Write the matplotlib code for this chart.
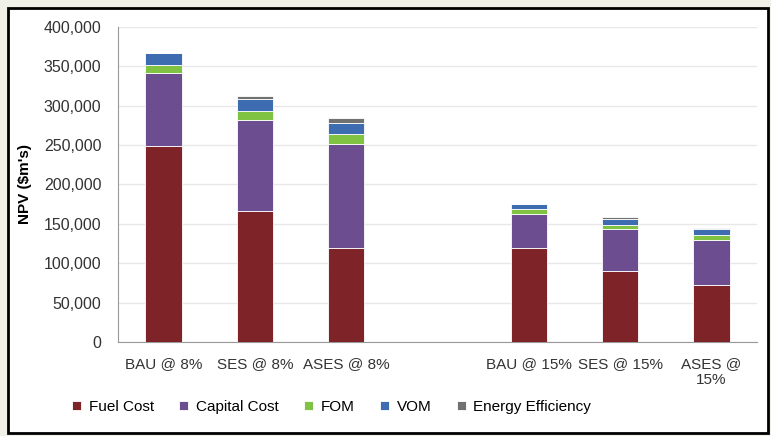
import matplotlib.pyplot as plt
from matplotlib.patches import Rectangle
import numpy as np

plt.rcParams['font.family'] = ['Liberation Sans', 'DejaVu Sans']

# scenarios (empty slot is the gap between the two discount rates)
cats = ["BAU @ 8%", "SES @ 8%", "ASES @ 8%", "", "BAU @ 15%", "SES @ 15%", "ASES @\n15%"]

# NPV components, $m
fuel = [249000, 166000, 119000, 0, 119000, 90000, 72000]
capital = [92000, 116000, 132000, 0, 44000, 53000, 58000]
fom = [11000, 11000, 13000, 0, 5500, 6000, 6000]
vom = [15000, 15000, 14000, 0, 6500, 7000, 7000]
eff = [0, 5000, 6000, 0, 0, 3000, 2000]

names = ["Fuel Cost", "Capital Cost", "FOM", "VOM", "Energy Efficiency"]
colors = ["#7e2428", "#6b4d90", "#80c342", "#3e6cb1", "#717171"]

fig = plt.figure(figsize=(7.71, 4.36), dpi=100)
fig.patch.set_facecolor("#f1f0e8")
# white chart area with black frame
fig.patches.append(Rectangle((8 / 771, 3 / 436), 760 / 771, 425 / 436, transform=fig.transFigure,
                             facecolor="white", edgecolor="black", linewidth=2, zorder=-5))

ax = fig.add_axes([118 / 771, 1 - 342 / 436, 639 / 771, 315 / 436])
ax.set_facecolor("none")
ax.set_zorder(2)

x = np.arange(len(cats))
bottom = np.zeros(len(cats))
for vals, name, c in zip([fuel, capital, fom, vom, eff], names, colors):
    ax.bar(x, vals, 0.4, bottom=bottom, color=c, edgecolor="#ffffff", linewidth=0.6,
           label=name, zorder=3)
    bottom += np.array(vals)

ax.set_xlim(-0.5, len(cats) - 0.5)
ax.set_ylim(0, 400000)
ax.set_yticks(range(0, 400001, 50000))
ax.set_yticklabels([f"{v:,}" for v in range(0, 400001, 50000)], fontsize=11.5, color="#333333")
ax.set_xticks(x)
ax.set_xticklabels(cats, fontsize=11, color="#333333")
ax.tick_params(length=0, pad=11)
ax.tick_params(axis="y", pad=12)
ax.grid(axis="y", color="#e8e8e8", linewidth=1, zorder=0)
for s in ["top", "right"]:
    ax.spines[s].set_visible(False)
ax.spines["left"].set_color("#999999")
ax.spines["bottom"].set_color("#999999")

ax.set_ylabel("NPV ($m's)", fontsize=11, fontweight="bold")
ax.yaxis.set_label_coords(-0.135, 0.5)

fig.legend(loc="center left", bbox_to_anchor=(66 / 771, 1 - 407 / 436), ncol=5, frameon=False,
           borderaxespad=0, fontsize=11, handlelength=0.6, handleheight=0.6, handletextpad=0.5,
           columnspacing=1.65)

fig.savefig("out.png", dpi=100, facecolor=fig.get_facecolor())
